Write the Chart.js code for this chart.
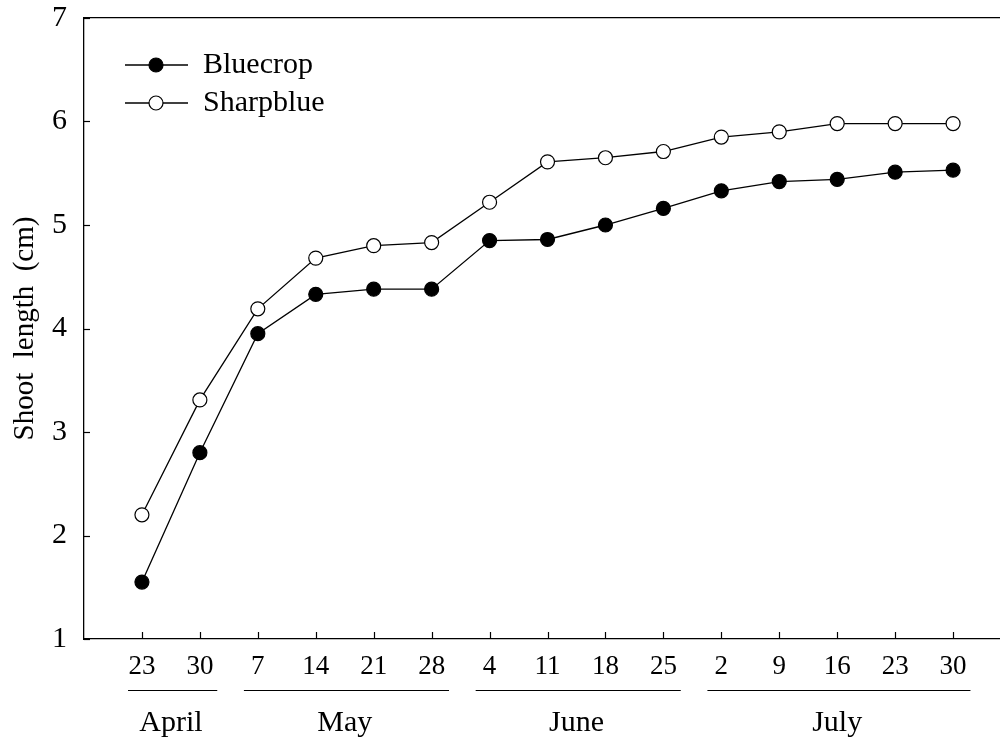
<!DOCTYPE html>
<html>
<head>
<meta charset="utf-8">
<script src="https://cdn.jsdelivr.net/npm/chart.js@4.4.0/dist/chart.umd.min.js"></script>
<style>
html, body { margin: 0; padding: 0; background: #fff; overflow: hidden; }
</style>
</head>
<body>
<canvas id="chart" width="1000" height="742"></canvas>
<script>
const dayLabels = ["23", "30", "7", "14", "21", "28", "4", "11", "18", "25", "2", "9", "16", "23", "30"];
const months = ["April", "May", "June", "July"];
const monthStart = [0, 2, 6, 10];
const monthEnd = [1, 5, 9, 14];
const bluecrop = [1.55, 2.80, 3.95, 4.33, 4.38, 4.38, 4.85, 4.86, 5.00, 5.16, 5.33, 5.42, 5.44, 5.51, 5.53];
const sharpblue = [2.20, 3.31, 4.19, 4.68, 4.80, 4.83, 5.22, 5.61, 5.65, 5.71, 5.85, 5.90, 5.98, 5.98, 5.98];
const yTicks = [1, 2, 3, 4, 5, 6, 7];

const $ink = "#000";
const $serif = "'Liberation Serif', 'DejaVu Serif', serif";

// fixed axis sizes, and no extra label padding around the plot
function fixSize(w, h) {
    return s => {
        if (w != null) s.width = w;
        if (h != null) s.height = h;
        s.paddingTop = 0;
        s.paddingBottom = 0;
        s.paddingLeft = 0;
        s.paddingRight = 0;
    };
}

// inward tick marks, month brackets and the legend box
const extras = {
    id: 'extras',
    afterDraw(chart) {
        const ctx = chart.ctx;
        const area = chart.chartArea;
        const x = chart.scales.x;
        const y = chart.scales.y;
        ctx.save();
        ctx.strokeStyle = $ink;
        ctx.lineWidth = 1.2;

        // ticks pointing into the plot
        dayLabels.forEach((d, i) => {
            const px = Math.round(x.getPixelForValue(i)) + 0.5;
            ctx.beginPath();
            ctx.moveTo(px, area.bottom);
            ctx.lineTo(px, area.bottom - 7);
            ctx.stroke();
        });
        yTicks.forEach(v => {
            const py = Math.round(y.getPixelForValue(v)) + 0.5;
            ctx.beginPath();
            ctx.moveTo(area.left, py);
            ctx.lineTo(area.left + 6, py);
            ctx.stroke();
        });

        // month brackets
        ctx.fillStyle = $ink;
        ctx.font = "30px " + $serif;
        ctx.textAlign = "center";
        ctx.textBaseline = "middle";
        months.forEach((m, k) => {
            const x1 = x.getPixelForValue(monthStart[k] - 0.24);
            const x2 = x.getPixelForValue(monthEnd[k] + 0.3);
            const ly = area.bottom + 51.5;
            ctx.beginPath();
            ctx.moveTo(x1, ly);
            ctx.lineTo(x2, ly);
            ctx.stroke();
            const mid = (x.getPixelForValue(monthStart[k]) + x.getPixelForValue(monthEnd[k])) / 2;
            ctx.fillText(m, mid, area.bottom + 84);
        });

        // legend
        ctx.textAlign = "left";
        chart.data.datasets.forEach((ds, k) => {
            const ly = area.top + 47 + k * 38;
            ctx.lineWidth = 1.3;
            ctx.beginPath();
            ctx.moveTo(area.left + 41, ly);
            ctx.lineTo(area.left + 104, ly);
            ctx.stroke();
            ctx.beginPath();
            ctx.arc(area.left + 72, ly, ds.pointRadius, 0, Math.PI * 2);
            ctx.fillStyle = ds.pointBackgroundColor;
            ctx.fill();
            ctx.lineWidth = ds.pointBorderWidth;
            ctx.stroke();
            ctx.fillStyle = $ink;
            ctx.fillText(ds.label, area.left + 119, ly);
        });
        ctx.restore();
    }
};

new Chart(document.getElementById('chart'), {
    type: 'line',
    data: {
        datasets: [{
            label: "Bluecrop",
            data: bluecrop.map((v, i) => ({x: i, y: v})),
            borderColor: $ink,
            borderWidth: 1.3,
            pointRadius: 7,
            pointBackgroundColor: $ink,
            pointBorderColor: $ink,
            pointBorderWidth: 1.2,
            tension: 0,
        }, {
            label: "Sharpblue",
            data: sharpblue.map((v, i) => ({x: i, y: v})),
            borderColor: $ink,
            borderWidth: 1.3,
            pointRadius: 7,
            pointBackgroundColor: "#fff",
            pointBorderColor: $ink,
            pointBorderWidth: 1.2,
            tension: 0,
        }]
    },
    options: {
        responsive: false,
        animation: false,
        layout: { padding: 0, autoPadding: false },
        plugins: {
            legend: { display: false },
            tooltip: { enabled: false },
        },
        scales: {
            x: {
                type: 'linear',
                position: 'bottom',
                min: -1,
                max: 14.81,
                afterBuildTicks: s => { s.ticks = dayLabels.map((d, i) => ({value: i})); },
                afterFit: fixSize(null, 103),
                ticks: {
                    callback: v => dayLabels[v],
                    autoSkip: false,
                    maxRotation: 0,
                    padding: 12,
                    color: $ink,
                    font: { family: $serif, size: 27 },
                },
                grid: { display: false, drawTicks: false },
                border: { color: $ink, width: 1.3 },
            },
            x2: {
                type: 'linear',
                position: 'top',
                min: -1,
                max: 14.81,
                afterFit: fixSize(null, 18),
                ticks: { display: false },
                grid: { display: false, drawTicks: false },
                border: { color: $ink, width: 1.3 },
            },
            y: {
                min: 1,
                max: 7,
                afterBuildTicks: s => { s.ticks = yTicks.map(v => ({value: v})); },
                afterFit: fixSize(84, null),
                ticks: {
                    padding: 17,
                    color: $ink,
                    font: { family: $serif, size: 30 },
                },
                title: {
                    display: true,
                    text: "Shoot  length  (cm)",
                    color: $ink,
                    font: { family: $serif, size: 29 },
                    padding: { top: 8, bottom: 0 },
                },
                grid: { display: false, drawTicks: false },
                border: { color: $ink, width: 1.3 },
            }
        }
    },
    plugins: [extras]
});
</script>
</body>
</html>
